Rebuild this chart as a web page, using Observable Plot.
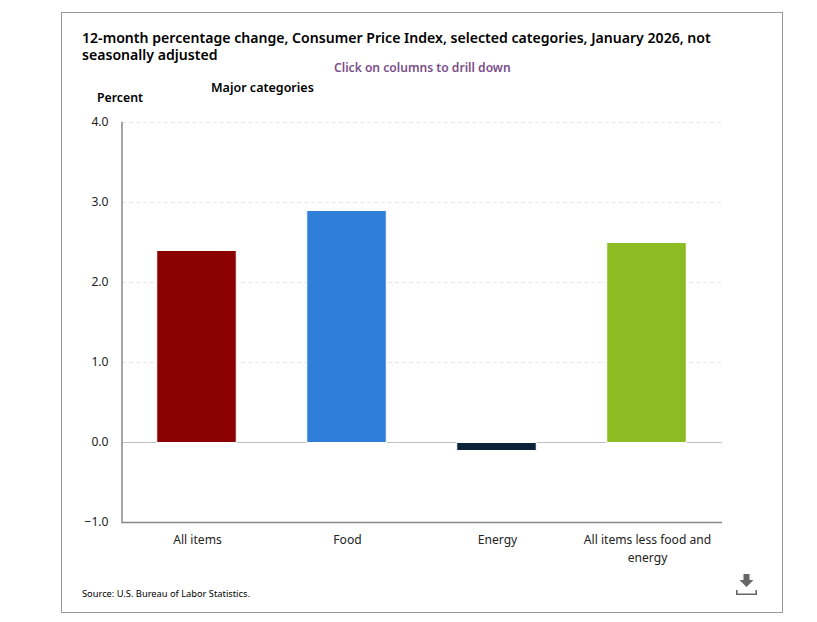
<!DOCTYPE html>
<html>
<head>
<meta charset="utf-8">
<script src="https://cdn.jsdelivr.net/npm/d3@7"></script>
<script src="https://cdn.jsdelivr.net/npm/@observablehq/plot@0.6"></script>
<style>
  html, body { margin: 0; padding: 0; background: #fff; }
  body { width: 817px; height: 622px; position: relative; overflow: hidden; font-family: "Noto Sans", sans-serif; color: #000; }
  #frame { position: absolute; left: 61px; top: 12px; width: 720px; height: 599px; border: 1px solid #999; }
  #chart { position: absolute; left: 0; top: 0; }
  .t { position: absolute; white-space: nowrap; }
  .title { left: 82px; font-size: 14.1px; font-weight: 600; line-height: 17px; height: 17px; overflow: hidden; }
  #title1 { top: 29px; }
  #title2 { top: 46px; }
  #drill { left: 334px; top: 59px; font-size: 12.1px; font-weight: 600; color: #7b4f8a; line-height: 17px; }
  #major { left: 211px; top: 79px; font-size: 12.5px; font-weight: 600; line-height: 17px; }
  #percent { left: 97px; top: 89px; font-size: 12.3px; font-weight: 600; line-height: 17px; }
  #source { left: 82px; top: 587px; font-size: 9.3px; line-height: 14px; }
  #dl { position: absolute; left: 736px; top: 574px; }
</style>
</head>
<body>
<div id="chart"></div>
<div id="frame"></div>
<div class="t title" id="title1">12-month percentage change, Consumer Price Index, selected categories, January 2026, not</div>
<div class="t title" id="title2">seasonally adjusted</div>
<div class="t" id="drill">Click on columns to drill down</div>
<div class="t" id="major">Major categories</div>
<div class="t" id="percent">Percent</div>
<div class="t" id="source">Source: U.S. Bureau of Labor Statistics.</div>
<svg id="dl" width="21" height="21" viewBox="0 0 21 21"><path d="M7.500 0h6v6h4l-7 7-7-7h4z" fill="#666"/><path d="M.8 16v4.200h19.400V16" fill="none" stroke="#666" stroke-width="1.600"/></svg>
<script>
const categories = ["All items", "Food", "Energy", "All items less food and energy"];
const values = [2.4, 2.9, -0.1, 2.5];
const colors = ["#8b0000", "#2f7ed8", "#0d233a", "#8bbc21"];
const gridTicks = [1, 2, 3, 4];
const yTicks = [-1, 0, 1, 2, 3, 4];
const table = categories.map((c, i) => ({category: c, value: values[i]}));

const chart = Plot.plot({
  width: 817,
  height: 622,
  marginLeft: 122,
  marginRight: 95,
  marginTop: 122,
  marginBottom: 100,
  style: {fontFamily: '"Noto Sans", sans-serif', fontSize: "12.1px", color: "#000", background: "transparent"},
  x: {domain: categories, paddingInner: 0.47, paddingOuter: 0.235, round: false, label: null},
  y: {domain: [-1, 4], label: null},
  color: {domain: categories, range: colors},
  marks: [
    Plot.ruleY(gridTicks, {stroke: "#e6e6e6", strokeDasharray: "4 3", strokeWidth: 1}),
    Plot.ruleY([0], {stroke: "#c0c0c0", strokeWidth: 1}),
    Plot.barY(table, {x: "category", y: "value", fill: "category", stroke: "#fff", strokeWidth: 1, dx: -0.5, dy: 0.5}),
    Plot.axisY({ticks: yTicks, tickSize: 0, tickPadding: 14, tickFormat: d3.format(".1f"), label: null, fill: "#222"}),
    Plot.axisX({tickSize: 0, tickPadding: 9, label: null, lineWidth: 13.5, lineHeight: 1.45, fill: "#222"}),
    Plot.ruleY([-1], {stroke: "#888", strokeWidth: 1.5}),
    Plot.frame({anchor: "left", stroke: "#888", strokeWidth: 1.5, dx: -0.5})
  ]
});
document.getElementById("chart").appendChild(chart);
</script>
</body>
</html>
